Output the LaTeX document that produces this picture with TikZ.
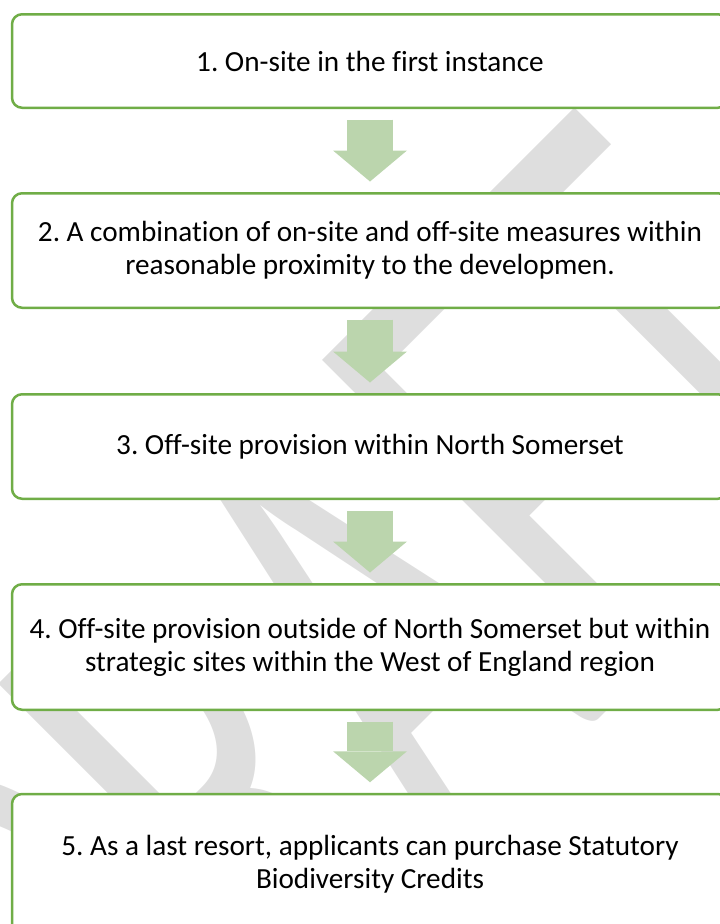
\documentclass[tikz,border=0pt]{standalone}
\usepackage{fontspec}
\setmainfont{Carlito}[Ligatures=NoCommon]
\usetikzlibrary{arrows.meta,positioning}
\definecolor{stepgreen}{RGB}{112,173,71}
\definecolor{flowgreen}{RGB}{187,213,173}
\definecolor{draftgray}{RGB}{222,222,222}
\frenchspacing

\begin{document}
\begin{tikzpicture}[x=1pt,y=-1pt]
  \tikzstyle{stepbox}=[draw=stepgreen,line width=2.5pt,rounded corners=10pt,fill=white,
    minimum width=716pt,align=center,text=black,font=\fontsize{29.2}{33}\selectfont]
  \tikzstyle{flow}=[draw=flowgreen,line width=46pt,shorten <=10.5pt,shorten >=10.5pt,
    -{Triangle[length=31pt,width=74pt,line width=0pt]}]
  \useasboundingbox (0,0) rectangle (720,924);
  \clip (0,0) rectangle (720,924);
  % Watermark behind everything
  \node[text=draftgray,font=\fontsize{700}{700}\selectfont,inner sep=0pt,
    anchor=base west,rotate=45,xscale=0.586,transform shape] (draft) at (117,1201) {DRAFT};
  % The five steps, top to bottom
  \node[stepbox,minimum height=93.5pt] (s1) at (370,61) {1. On-site in the first instance};
  \node[stepbox,minimum height=114.5pt] (s2) at (370,250.5)
    {2. A combination of on-site and off-site measures within\\reasonable proximity to the developmen.};
  \node[stepbox,minimum height=104.5pt] (s3) at (370,446.5) {3. Off-site provision within North Somerset};
  \node[stepbox,minimum height=125.5pt] (s4) at (370,647)
    {4. Off-site provision outside of North Somerset but within\\strategic sites within the West of England region};
  \node[stepbox,minimum height=140pt] (s5) at (370,864)
    {5. As a last resort, applicants can purchase Statutory\\Biodiversity Credits};
  % Block arrows between the steps
  \draw[flow] (s1) -- (s2);
  \draw[flow] (s2) -- (s3);
  \draw[flow] (s3) -- (s4);
  \draw[flow] (s4) -- (s5);
\end{tikzpicture}
\end{document}
